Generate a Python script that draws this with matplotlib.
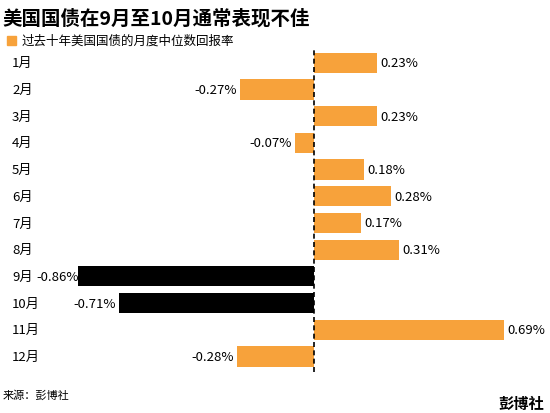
import matplotlib
matplotlib.use("Agg")
import matplotlib.pyplot as plt

plt.rcParams['font.family'] = ['Noto Sans CJK SC', 'DejaVu Sans']

months = ["1月","2月","3月","4月","5月","6月","7月","8月","9月","10月","11月","12月"]
values = [0.23,-0.27,0.23,-0.07,0.18,0.28,0.17,0.31,-0.86,-0.71,0.69,-0.28]
highlight = ["9月","10月"]

ORANGE = "#F7A23B"
fig = plt.figure(figsize=(5.5,4.14), dpi=100)
ax = fig.add_axes([0.142, 0.098, 0.789, 0.78])
ys = list(range(1, len(months)+1))
colors = ["black" if m in highlight else ORANGE for m in months]
ax.barh(ys, values, height=0.76, color=colors)
ax.set_xlim(-0.86, 0.72)
ax.set_ylim(12.6, 0.5)
ax.axvline(0, color="black", ls=(0,(3,2)), lw=1.2)
ax.axis("off")
for y, m, v in zip(ys, months, values):
    ax.annotate(m, xy=(0, y), xycoords=("figure fraction", "data"), xytext=(12, 0),
                textcoords="offset pixels", va="center", ha="left", fontsize=9.5)
    lab = f"{v:.2f}%"
    if v >= 0:
        ax.text(v + 0.012, y, lab, va="center", ha="left", fontsize=9.5)
    elif m == "9月":
        ax.annotate(lab, xy=(0, y), xycoords=("figure fraction", "data"), xytext=(36, 0),
                    textcoords="offset pixels", va="center", ha="left", fontsize=9.5)
    else:
        ax.text(v - 0.012, y, lab, va="center", ha="right", fontsize=9.5)

fig.text(0.005, 0.955, "美国国债在9月至10月通常表现不佳", fontsize=14, fontweight="bold", va="center")
fig.patches.append(plt.Rectangle((0.013, 0.89), 0.016, 0.021, transform=fig.transFigure, color=ORANGE))
fig.text(0.04, 0.9, "过去十年美国国债的月度中位数回报率", fontsize=9, va="center")
fig.text(0.005, 0.045, "来源：彭博社", fontsize=8, va="center")
fig.text(0.99, 0.025, "彭博社", fontsize=11, fontweight="bold", va="center", ha="right")
fig.savefig("out.png", dpi=100, facecolor="white")
